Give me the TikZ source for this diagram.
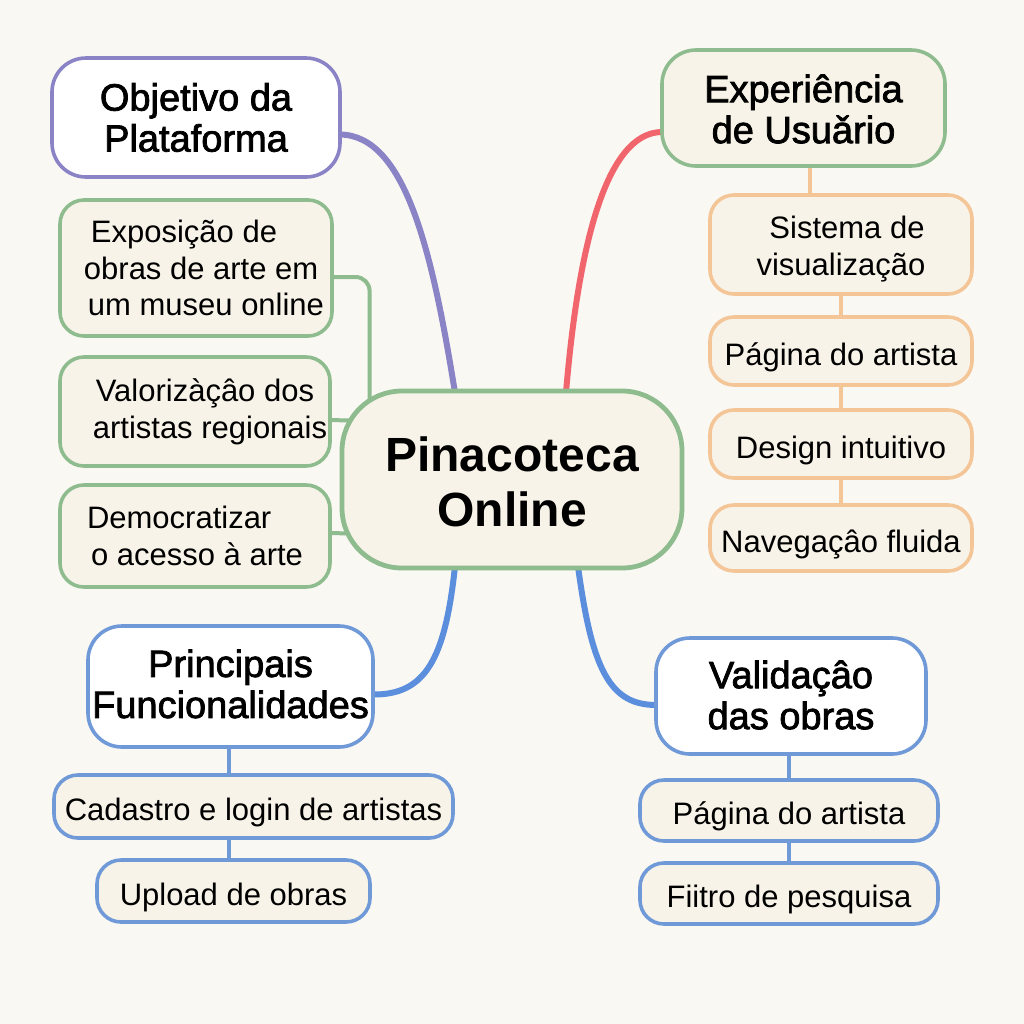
\documentclass[tikz,border=0pt]{standalone}
\usepackage{fontspec}
\setmainfont{Liberation Sans}
\newfontfamily\hdrfont[FakeBold=2]{Liberation Sans}
\usetikzlibrary{calc,backgrounds}
\definecolor{bgc}{HTML}{FAF8F3}
\definecolor{cream}{HTML}{F8F3E8}
\definecolor{purp}{HTML}{8A84C6}
\definecolor{grn}{HTML}{8EBC8F}
\definecolor{org}{HTML}{F3C597}
\definecolor{blu}{HTML}{7099D8}
\definecolor{bluc}{HTML}{5B8EDC}
\definecolor{redc}{HTML}{F0666C}
\newcommand\lowr[2]{\raisebox{-#1}[\height][\depth]{#2}}
\begin{document}
\begin{tikzpicture}[x=0.5pt,y=-0.5pt,
  box/.style={draw, line width=1.8pt, rounded corners=12pt, fill=cream, inner sep=0pt,
    align=center, font=\fontsize{15.5}{18.3}\selectfont},
  one/.style={box},
  hdr/.style={box, rounded corners=17pt, font=\hdrfont\fontsize{19}{20.5}\selectfont},
  conn/.style={line width=3pt, line cap=round},
  small/.style={line width=2pt}]
\useasboundingbox (0,0) rectangle (1024,1024);
% nodes
\node[hdr, draw=purp, fill=white, minimum width=144pt, minimum height=59.5pt] (obj) at (196,117.5) {Objetivo da\\Plataforma};
\node[box, draw=grn, minimum width=136pt, minimum height=68pt, align=left] (expo) at (196,268)
  {\hspace*{11.5pt}Exposição de\\\hspace*{8pt}obras de arte em\\\hspace*{10pt}um museu online};
\node[box, draw=grn, minimum width=135pt, minimum height=54.5pt, align=left] (valo) at (195,411.5)
  {\hspace*{16.5pt}Valorizàçâo dos\\\hspace*{15pt}artistas regionais};
\node[box, draw=grn, minimum width=135pt, minimum height=51pt, align=left] (demo) at (195,536)
  {Democratizar\\\hspace*{2pt}o acesso à arte};
\node[box, draw=grn, line width=2.4pt, rounded corners=30pt, minimum width=170pt, minimum height=88.5pt,
  font=\bfseries\fontsize{24}{27.5}\selectfont] (ctr) at (512,479.5) {\lowr{1pt}{Pinacoteca}\\\lowr{1pt}{Online}};
\node[hdr, draw=grn, minimum width=141.5pt, minimum height=58pt] (exp) at (803.5,108) {\lowr{0.5pt}{Experiência}\\\lowr{0.5pt}{de Usuǎrio}};
\node[box, draw=org, minimum width=131pt, minimum height=49.5pt] (sist) at (841,244.5) {\lowr{2.2pt}{\hspace*{6pt}Sistema de}\\\lowr{2.2pt}{visualização}};
\node[one, draw=org, minimum width=131pt, minimum height=34pt] (pag1) at (841,351) {\lowr{3pt}{Página do artista}};
\node[one, draw=org, minimum width=131pt, minimum height=34pt] (des) at (841,444) {\lowr{3pt}{Design intuitivo}};
\node[one, draw=org, minimum width=131pt, minimum height=33pt] (nav) at (841,538) {\lowr{3pt}{Navegaçâo fluida}};
\node[hdr, draw=blu, fill=white, minimum width=142.5pt, minimum height=60.5pt] (prin) at (230.5,686.5) {\lowr{-1.3pt}{Principais}\\\lowr{-1.3pt}{Funcionalidades}};
\node[one, draw=blu, minimum width=199.5pt, minimum height=31.5pt] (cad) at (253.5,806.5) {\lowr{3pt}{Cadastro e login de artistas}};
\node[one, draw=blu, minimum width=136.5pt, minimum height=31pt] (upl) at (233.5,891) {\lowr{3pt}{Upload de obras}};
\node[hdr, draw=blu, fill=white, minimum width=135pt, minimum height=58pt] (val) at (791,696) {\lowr{-0.5pt}{Validaçâo}\\\lowr{-0.5pt}{das obras}};
\node[one, draw=blu, minimum width=149pt, minimum height=30.5pt] (pag2) at (789,810.5) {\lowr{3pt}{Página do artista}};
\node[one, draw=blu, minimum width=149pt, minimum height=30.5pt] (fil) at (789,893.5) {\lowr{3pt}{Fiitro de pesquisa}};
% connectors
\begin{scope}[on background layer]
\fill[bgc] (0,0) rectangle (1024,1024);
\draw[conn, purp] ($(obj.east)+(-2,17)$) .. controls (405,135) and (432,250) .. ($(ctr.north)+(-57,4)$);
\draw[conn, redc] ($(exp.west)+(2,24)$) .. controls (605,132) and (578,250) .. ($(ctr.north)+(54,4)$);
\draw[conn, bluc] ($(ctr.south)+(-57,-4)$) .. controls (445,660) and (425,695) .. ($(prin.east)+(-2,8)$);
\draw[conn, bluc] ($(ctr.south)+(66,-4)$) .. controls (592,670) and (610,705) .. ($(val.west)+(2,9)$);
\draw[small, grn, rounded corners=7pt] ($(expo.east)+(-2,9)$) -| ($(ctr.west)+(30,-60)$);
\draw[small, grn] ($(valo.east)+(-2,8.5)$) -- ($(ctr.west)+(30,-58.5)$);
\draw[small, grn] ($(demo.east)+(-2,-3)$) -- ($(ctr.west)+(30,54.5)$);
\draw[small, org] ($(exp.south)+(6.5,-2)$) -- ($(sist.north)+(-31,2)$);
\draw[small, org] ($(sist.south)+(0,-2)$) -- ($(pag1.north)+(0,2)$);
\draw[small, org] ($(pag1.south)+(0,-2)$) -- ($(des.north)+(0,2)$);
\draw[small, org] ($(des.south)+(0,-2)$) -- ($(nav.north)+(0,2)$);
\draw[small, blu] ($(prin.south)+(-2,-2)$) -- ($(cad.north)+(-25,2)$);
\draw[small, blu] ($(cad.south)+(-25,-2)$) -- ($(upl.north)+(-5,2)$);
\draw[small, blu] ($(val.south)+(-2,-2)$) -- ($(pag2.north)+(0,2)$);
\draw[small, blu] ($(pag2.south)+(0,-2)$) -- ($(fil.north)+(0,2)$);
\end{scope}
\end{tikzpicture}
\end{document}
